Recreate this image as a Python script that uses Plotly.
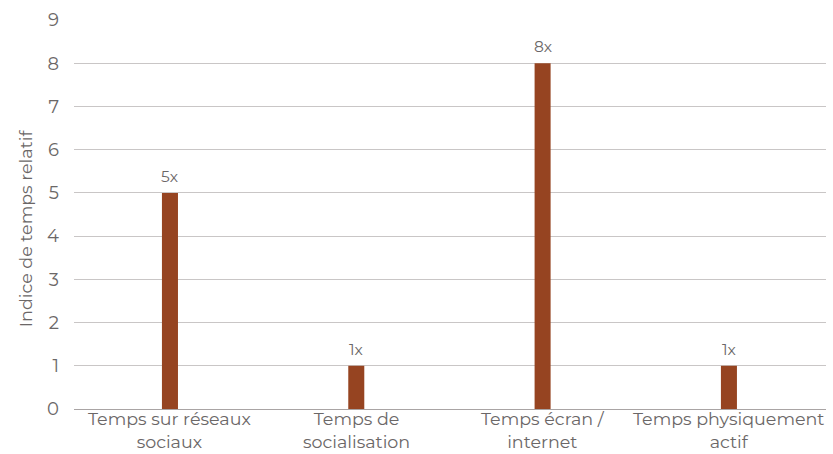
import plotly.graph_objects as go

categories = ["Temps sur réseaux sociaux", "Temps de socialisation",
              "Temps écran / internet", "Temps physiquement actif"]
label_lines = [("Temps sur réseaux", "sociaux"), ("Temps de", "socialisation"),
               ("Temps écran /", "internet"), ("Temps physiquement", "actif")]
values = [5, 1, 8, 1]
value_labels = ["5x", "1x", "8x", "1x"]

bar_color = "#964421"
text_color = "#6b6767"
font_family = "Montserrat, Lato, 'Open Sans', sans-serif"

fig = go.Figure(go.Bar(
    x=categories,
    y=values,
    width=0.086,
    marker=dict(color=bar_color, line=dict(width=0)),
    hoverinfo="x+y",
))

# value labels above each bar
for cat, v, lab in zip(categories, values, value_labels):
    fig.add_annotation(x=cat, y=v, xref="x", yref="y", text=lab,
                       showarrow=False, xanchor="center", yanchor="bottom", yshift=5,
                       font=dict(size=15.5, color=text_color, family=font_family))

# two-line category labels under the axis
for cat, (l1, l2) in zip(categories, label_lines):
    fig.add_annotation(x=cat, y=-0.055, xref="x", yref="paper", text=l1 + "<br>" + l2,
                       showarrow=False, xanchor="center", yanchor="middle", borderpad=0,
                       font=dict(size=17.5, color=text_color, family=font_family))

# rotated y-axis title
fig.add_annotation(x=-0.065, y=0.465, xref="paper", yref="paper",
                   text="Indice de temps relatif", textangle=-90, showarrow=False,
                   xanchor="center", yanchor="middle",
                   font=dict(size=17.5, color=text_color, family=font_family))

fig.update_layout(
    width=833, height=454,
    margin=dict(l=74, r=7, t=20, b=45),
    paper_bgcolor="white",
    plot_bgcolor="white",
    showlegend=False,
    font=dict(family=font_family, color=text_color, size=16),
)
fig.update_xaxes(
    range=[-0.515, 3.521],
    showgrid=False, automargin=False,
    showline=True, linecolor="#a9a4a4", linewidth=1,
    ticks="", showticklabels=False,
)
fig.update_yaxes(
    range=[0, 9], dtick=1, automargin=False,
    showgrid=True, gridcolor="#c9c6c6", gridwidth=1,
    zeroline=False,
    ticks="", ticklabelstandoff=14,
    tickfont=dict(size=18, color=text_color),
)

fig.write_html("out.html")
